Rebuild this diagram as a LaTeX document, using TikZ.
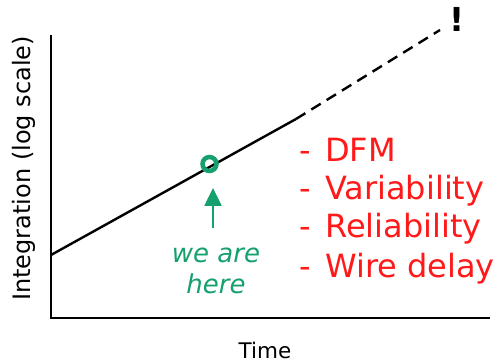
\documentclass[tikz,border=0pt]{standalone}
\usepackage{fontspec}
\setmainfont{DejaVu Sans}
\usetikzlibrary{arrows.meta}
\definecolor{ngreen}{RGB}{22,160,110}
\definecolor{nred}{RGB}{255,25,25}
\newcommand{\dsh}{-\hspace{14.5pt}}
\begin{document}
\begin{tikzpicture}[x=1pt,y=-1pt,
  axis/.style={line width=2.4pt},
  lbl/.style={inner sep=0pt},
  redtxt/.style={text=nred, font=\fontsize{32}{38}\selectfont, inner sep=0pt, anchor=base west}]
\useasboundingbox (0,0) rectangle (495,363);
\coordinate (top) at (51,35);
\coordinate (origin) at (51,318);
\coordinate (xend) at (490,318);
\draw[axis] (top) -- (origin) -- (xend);
\coordinate (start) at (51,255);
\coordinate (mid) at (296,119);
\coordinate (end) at (440,30);
\draw[line width=2.4pt] (start) -- (mid);
\draw[line width=2.4pt, dash pattern=on 11pt off 7pt] (mid) -- (end);
\node[circle, draw=ngreen, line width=4.5pt, minimum size=14pt, inner sep=0pt] (here) at (209.5,164) {};
\coordinate (arrbase) at (213,228);
\draw[ngreen, line width=2.6pt, -{Triangle[length=18pt,width=17pt]}] (arrbase) -- (213,188);
\node[text=ngreen, font=\fontsize{26}{31}\selectfont\itshape, inner sep=0pt, anchor=base] (we) at (216,262) {we are};
\node[text=ngreen, font=\fontsize{26}{31}\selectfont\itshape, inner sep=0pt, anchor=base] (we2) at (216,293) {here};
\node[font=\bfseries\fontsize{33}{36}\selectfont, inner sep=0pt, anchor=base] (excl) at (457,32) {!};
\node[lbl, font=\fontsize{21.5}{26}\selectfont, anchor=base] (time) at (265,358) {Time};
\node[lbl, font=\fontsize{24}{28}\selectfont, rotate=90, anchor=base] (ylab) at (30,168.5) {Integration (log scale)};
\node[redtxt] (t1) at (299,162) {\dsh DFM};
\node[redtxt] (t2) at (299,200) {\dsh Variability};
\node[redtxt] (t3) at (299,238) {\dsh Reliability};
\node[redtxt] (t4) at (299,277) {\dsh Wire delay};
\end{tikzpicture}
\end{document}
